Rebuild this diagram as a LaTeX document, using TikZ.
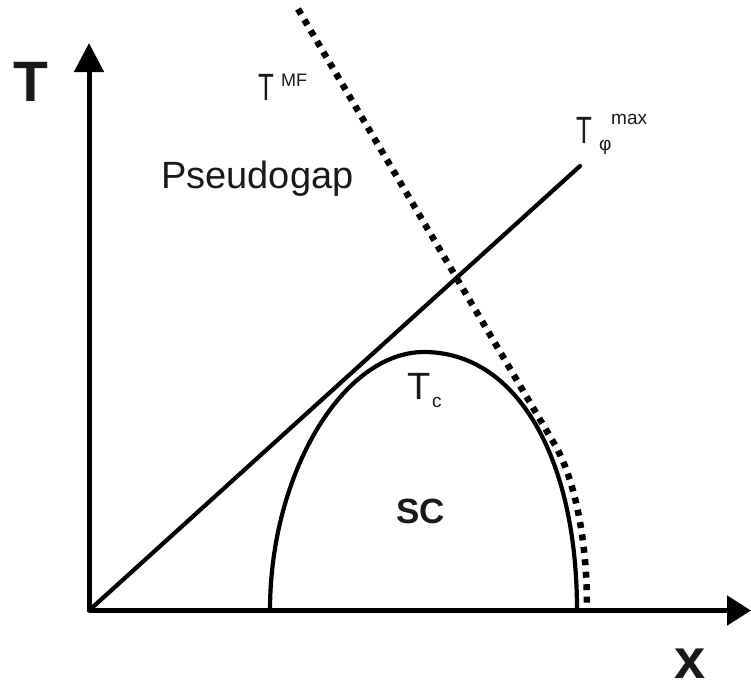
\documentclass[tikz,border=0pt]{standalone}
\usepackage{fontspec}
\setmainfont{Liberation Sans}
\usetikzlibrary{arrows.meta}
\begin{document}
\begin{tikzpicture}[x=1pt,y=-1pt,
  axis/.style={line width=5pt,-{Triangle[length=29pt,width=29pt]}},
  curve/.style={line width=4.2pt},
  dotline/.style={line width=6.5pt,dash pattern=on 6pt off 6.5pt},
  lbl/.style={inner sep=0pt,anchor=base west,text=black!90}]
\useasboundingbox (0,0) rectangle (751,689);
\coordinate (O) at (89,610.5);
\coordinate (Ytip) at (89,43);
\coordinate (Xtip) at (751,610.5);
\coordinate (Lend) at (580,166);
% axes
\draw[axis] (O) -- (Ytip);
\draw[axis,-{Triangle[length=24pt,width=29pt]}] (O) -- (Xtip);
% straight line
\draw[curve,line cap=round] (O) -- (Lend);
% dome
\coordinate (DL) at (270,610.5);
\coordinate (DT) at (424,352);
\coordinate (DR) at (577,610.5);
\draw[curve] (DL) .. controls (270,473.5) and (343,352) .. (DT)
             .. controls (515.6,352) and (577,455.5) .. (DR);
% dotted line
\coordinate (M1) at (298,9);
\coordinate (M2) at (555,445);
\coordinate (M3) at (587,607);
\draw[dotline] (M1) -- (M2) .. controls (575,480) and (587,540) .. (M3);
% labels
\node[lbl,font=\bfseries\fontsize{57}{57}\selectfont] (Tlab) at (13,101) {T};
\node[lbl,font=\bfseries\fontsize{56}{56}\selectfont] (xlab) at (674,678) {x};
\node[lbl,font=\fontsize{38}{38}\selectfont] (pg) at (161,188) {Pseudogap};
\node[lbl,font=\bfseries\fontsize{35}{35}\selectfont] (sc) at (396,523) {SC};
\node[lbl,font=\fontsize{38}{38}\selectfont] (tmf) at (258,100) {\scalebox{0.68}[1]{T}};
\node[lbl,font=\fontsize{18}{18}\selectfont] (mf) at (281,86) {MF};
\node[lbl,font=\fontsize{38}{38}\selectfont] (tphi) at (576,143) {\scalebox{0.68}[1]{T}};
\node[lbl,font=\fontsize{19}{19}\selectfont] (phi) at (599,150) {φ};
\node[lbl,font=\fontsize{19}{19}\selectfont] (max) at (611,124) {max};
\node[lbl,font=\fontsize{38}{38}\selectfont] (tc) at (407,399) {T};
\node[lbl,font=\fontsize{19}{19}\selectfont] (c) at (432,407) {c};
\end{tikzpicture}
\end{document}
